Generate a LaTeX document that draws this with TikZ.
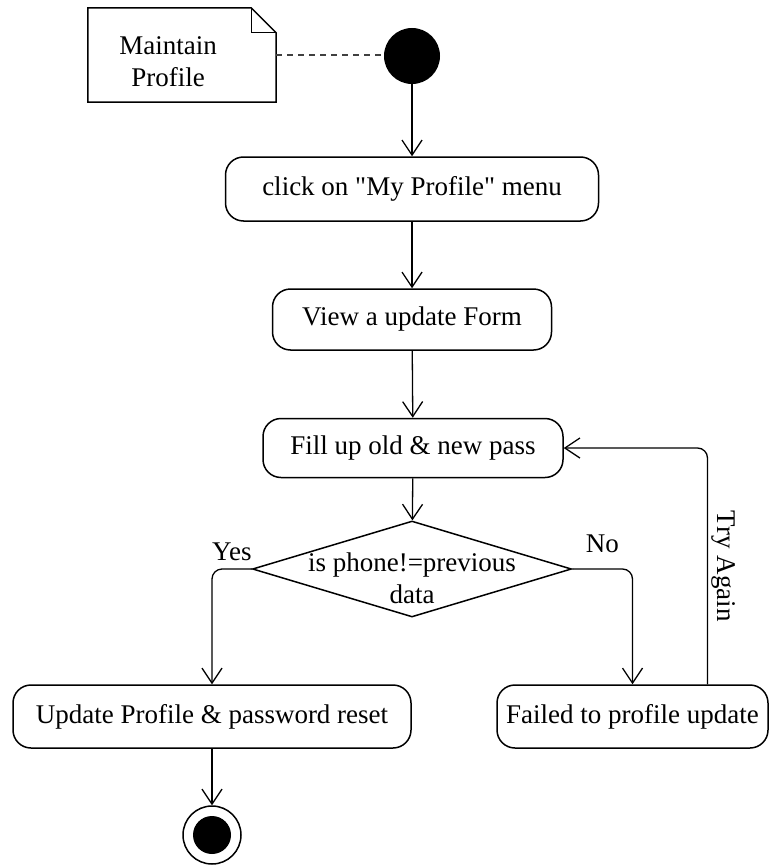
\documentclass[tikz,border=0pt]{standalone}
\usepackage{fontspec}
\setmainfont{Liberation Serif}[Ligatures=TeXOff]
\usetikzlibrary{shapes.geometric,arrows.meta}

\tikzset{
  act/.style={draw, rounded corners=18pt, line width=1.5pt, inner sep=0pt},
  flow/.style={-{Straight Barb[length=15pt,width=20pt]}, line width=1.3pt},
}

\begin{document}
\begin{tikzpicture}[x=1pt,y=-1pt,font=\fontsize{27}{32}\selectfont]
%\draw[step=50pt,gray,very thin,dashed] (0,0) grid (770,867);
\useasboundingbox (0,0) rectangle (770,867);

\node[circle, fill=black, minimum size=56pt, inner sep=0pt] (start) at (412,56) {};

\node[minimum width=188pt, minimum height=94pt, inner sep=0pt] (note) at (182,55) {};
\draw[line width=1.5pt] (note.north west) -- ([xshift=-25pt]note.north east) -- ([yshift=-25pt]note.north east) -- (note.south east) -- (note.south west) -- cycle;
\draw[line width=1.3pt] ([xshift=-25pt]note.north east) |- ([yshift=-25pt]note.north east);
\node[align=center] (notetext) at (168,62) {Maintain\\Profile};
\draw[line width=1.6pt, dash pattern=on 6pt off 5pt, black!75] (note.east) -- (note.east -| start.west);

\node[act, minimum width=373pt, minimum height=64pt] (click) at (412,189) {click on "My Profile" menu};
\node[act, minimum width=279pt, minimum height=61pt] (view) at (412,319.5) {View a update Form};
\node[act, minimum width=300pt, minimum height=59pt] (fill) at (413,448) {Fill up old \& new pass};
\node[diamond, draw, line width=1.5pt, minimum width=319pt, minimum height=96pt, inner sep=0pt] (dec) at (412,569) {};
\node[align=center] (dectext) at (412,578) {is phone!=previous\\data};
\node[act, minimum width=398pt, minimum height=63pt] (upd) at (212,716.5) {Update Profile \& password reset};
\node[act, minimum width=271pt, minimum height=63pt] (fail) at (632.5,716.5) {Failed to profile update};
\node[circle, draw, line width=1.5pt, minimum size=58pt, inner sep=0pt] (final) at (212,835) {};
\fill (final) circle[radius=19pt];

\draw[flow] (start) -- (click);
\draw[flow] (click) -- (view);
\draw[flow] (view) -- (fill);
\draw[flow] (fill) -- (dec);
\draw[flow, rounded corners=10pt] (dec.west) -| node[pos=0.25, above=4pt] {Yes} (upd.north);
\draw[flow, rounded corners=10pt] (dec.east) -| node[pos=0.25, above=12pt] {No} (fail.north);
\draw[flow, rounded corners=10pt] ([xshift=75pt]fail.north) |- node[pos=0.25, rotate=-90, anchor=south] {Try Again} (fill.east);
\draw[flow] (upd) -- (final);
\end{tikzpicture}
\end{document}
